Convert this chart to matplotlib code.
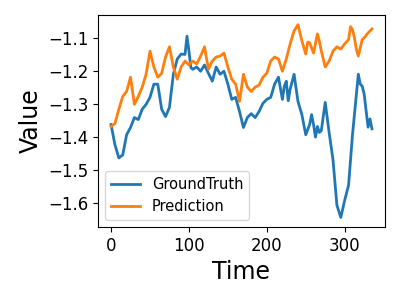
import matplotlib
matplotlib.use("Agg")
import matplotlib.pyplot as plt

gt_time = [
    0, 5, 10, 15, 20, 25, 30, 35, 40, 45,
    50, 55, 60, 65, 70, 75, 80, 85, 90, 95, 97.5,
    100, 102.5, 105, 110, 115, 120, 125, 130, 135, 140, 145,
    150, 155, 160, 165, 170, 175, 180, 185, 190, 195,
    200, 205, 210, 215, 220, 222.5, 225, 227.5, 230, 235, 240, 245,
    250, 255, 257.5, 260, 262.5, 265, 267.5, 270, 275, 280, 285, 290, 295,
    300, 305, 310, 315, 317.5, 320, 322.5, 325, 330, 332.5, 335,
]
ground_truth = [
    -1.362, -1.423, -1.463, -1.454, -1.393, -1.371, -1.341, -1.347, -1.316, -1.301,
    -1.280, -1.240, -1.240, -1.316, -1.338, -1.310, -1.210, -1.164, -1.149, -1.150, -1.095,
    -1.140, -1.190, -1.195, -1.188, -1.201, -1.182, -1.207, -1.231, -1.188, -1.210, -1.201,
    -1.240, -1.286, -1.280, -1.323, -1.371, -1.341, -1.329, -1.341, -1.323, -1.298,
    -1.286, -1.280, -1.240, -1.219, -1.286, -1.246, -1.231, -1.290, -1.255, -1.210, -1.292, -1.332,
    -1.393, -1.362, -1.332, -1.362, -1.400, -1.368, -1.386, -1.380, -1.295, -1.386, -1.469, -1.606, -1.643,
    -1.591, -1.545, -1.393, -1.271, -1.210, -1.240, -1.246, -1.270, -1.370, -1.345, -1.375,
]

pred_time = [
    0, 5, 10, 15, 20, 25, 30, 35, 40, 45,
    50, 55, 60, 65, 70, 75, 80, 85, 90, 95,
    100, 105, 110, 115, 120, 125, 130, 135, 140, 145,
    150, 155, 160, 165, 170, 175, 180, 185, 190, 195,
    200, 205, 210, 215, 220, 225, 230, 235, 240, 245,
    250, 252.5, 255, 260, 265, 267.5, 270, 275, 280, 285, 290, 295,
    300, 305, 307.5, 310, 312.5, 315, 317.5, 320, 322.5, 325, 330, 335,
]
prediction = [
    -1.368, -1.359, -1.316, -1.277, -1.262, -1.219, -1.301, -1.277, -1.249, -1.210,
    -1.140, -1.188, -1.219, -1.207, -1.158, -1.127, -1.188, -1.225, -1.188, -1.170,
    -1.182, -1.170, -1.179, -1.155, -1.127, -1.195, -1.170, -1.158, -1.155, -1.146,
    -1.188, -1.225, -1.240, -1.292, -1.210, -1.249, -1.262, -1.249, -1.243, -1.219,
    -1.207, -1.170, -1.158, -1.164, -1.201, -1.164, -1.118, -1.079, -1.060, -1.109,
    -1.149, -1.113, -1.115, -1.146, -1.088, -1.110, -1.140, -1.188, -1.170, -1.140, -1.127, -1.134,
    -1.118, -1.105, -1.066, -1.075, -1.100, -1.135, -1.155, -1.130, -1.105, -1.100, -1.085, -1.073,
]

fig = plt.figure(figsize=(4, 3), dpi=100)
ax = fig.add_axes([0.245, 0.243, 0.7175, 0.707])
ax.plot(gt_time, ground_truth, color="#1f77b4", linewidth=2, label="GroundTruth")
ax.plot(pred_time, prediction, color="#ff7f0e", linewidth=2, label="Prediction")
ax.set_xlabel("Time", fontsize=17)
ax.set_ylabel("Value", fontsize=17)
ax.set_xticks([0, 100, 200, 300])
ax.set_yticks([-1.6, -1.5, -1.4, -1.3, -1.2, -1.1])
ax.tick_params(labelsize=12)
ax.legend(loc="lower left", fontsize=10.5)
fig.savefig("out.png", dpi=100)
